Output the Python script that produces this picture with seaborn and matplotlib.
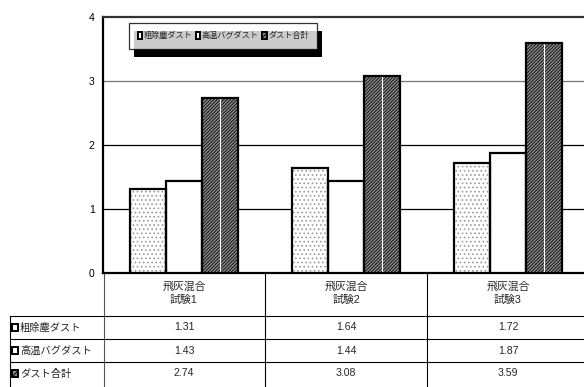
import matplotlib
matplotlib.use("Agg")
import matplotlib.pyplot as plt
import matplotlib.transforms as mtransforms
from matplotlib.patches import Rectangle, Patch
from matplotlib.lines import Line2D
import seaborn as sns
import pandas as pd

# ---- data ----
categories = ["飛灰混合\n試験1", "飛灰混合\n試験2", "飛灰混合\n試験3"]
series = ["粗除塵ダスト", "高温バグダスト", "ダスト合計"]
dust_coarse = [1.31, 1.64, 1.72]
dust_bag = [1.43, 1.44, 1.87]
dust_total = [2.74, 3.08, 3.59]
yticks = [0, 1, 2, 3, 4]

sns.set_theme(style="white")
plt.rcParams["font.family"] = ["Liberation Sans", "Noto Sans CJK JP", "DejaVu Sans"]
plt.rcParams["hatch.linewidth"] = 0.7

W, H = 584, 387
fig = plt.figure(figsize=(W / 100, H / 100), dpi=100)
fig.patch.set_facecolor("white")

# plot area in pixels: x 103..589 (runs past the right edge), y 17..273
px0, px1, py0, py1 = 103, 589, 17, 273
ax = fig.add_axes([px0 / W, 1 - py1 / H, (px1 - px0) / W, (py1 - py0) / H])

df = pd.DataFrame({
    "cat": categories * 3,
    "series": [s for s in series for _ in categories],
    "value": dust_coarse + dust_bag + dust_total,
})

sns.barplot(data=df, x="cat", y="value", hue="series", order=categories,
            hue_order=series, palette=["white"] * 3, saturation=1,
            edgecolor="black", linewidth=1.6, width=0.667, gap=0,
            legend=False, ax=ax, zorder=3)

# fill styles per series: stipple, plain, dense diagonal
styles = [
    dict(facecolor="white", edgecolor="#9a9a9a", hatch="...."),
    dict(facecolor="white", edgecolor="white", hatch=None),
    dict(facecolor="#8c8c8c", edgecolor="#111111", hatch="/" * 10),
]
for cont, st in zip(ax.containers, styles):
    for p in cont.patches:
        p.set_facecolor("none")
        p.set_zorder(4)
        fill = Rectangle((p.get_x(), p.get_y()), p.get_width(), p.get_height(),
                         facecolor=st["facecolor"], edgecolor=st["edgecolor"],
                         hatch=st["hatch"], linewidth=0, zorder=3)
        ax.add_patch(fill)
for p in ax.containers[2].patches:
    cx = p.get_x() + p.get_width() / 2
    ax.plot([cx, cx], [0, p.get_height()], color="white", lw=0.8, zorder=3.5)

ax.set_xlim(-0.5, 2.5)
ax.set_ylim(0, 4)
ax.set_yticks(yticks)
ax.set_yticklabels([str(t) for t in yticks], fontsize=7.5)
ax.tick_params(axis="y", length=0, pad=6, colors="black")
ax.set_xticks([])
ax.set_xlabel("")
ax.set_ylabel("")
for t in [1, 2]:
    ax.axhline(t, color="black", lw=0.9, zorder=1)
ax.axhline(3, color="#777777", lw=0.9, zorder=1)
for side in ["left", "top", "bottom"]:
    ax.spines[side].set_color("black")
    ax.spines[side].set_linewidth(1.6)
ax.spines["top"].set_color("#333333")
ax.spines["right"].set_visible(False)

# ---- data table under the axes ----
def yax(ypix):
    return (py1 - ypix) / (py1 - py0)

def xax(xpix):
    return (xpix - px0) / (px1 - px0)

blend = mtransforms.blended_transform_factory(ax.transData, ax.transAxes)
tA = ax.transAxes

row_lines = [316, 339, 362]
for yl in row_lines:
    ax.add_line(Line2D([xax(10), xax(px1)], [yax(yl), yax(yl)], transform=tA,
                       color="black", lw=0.8, clip_on=False))
ax.add_line(Line2D([xax(10), xax(10)], [yax(316), yax(H + 5)], transform=tA,
                   color="black", lw=0.8, clip_on=False))
ax.add_line(Line2D([xax(104), xax(104)], [yax(273), yax(H + 5)], transform=tA,
                   color="#555555", lw=0.8, clip_on=False))
for b in [0.5, 1.5]:
    ax.add_line(Line2D([b, b], [yax(273), yax(H + 5)], transform=blend,
                       color="black", lw=0.8, clip_on=False))

for i, c in enumerate(categories):
    ax.text(i, yax(293), c, transform=blend, ha="center", va="center",
            fontsize=7.8, linespacing=1.45, clip_on=False)

row_y = [327.5, 350.5, 373.5]
for r, (name, vals) in enumerate(zip(series, [dust_coarse, dust_bag, dust_total])):
    box = Rectangle((xax(12), yax(row_y[r] + 3.5)), 6 / (px1 - px0),
                    7 / (py1 - py0), transform=tA, clip_on=False,
                    facecolor="#888888" if r == 2 else "white",
                    edgecolor="black", linewidth=1.4,
                    hatch="//////" if r == 2 else None, zorder=5)
    ax.add_patch(box)
    ax.text(xax(20), yax(row_y[r]), name, transform=tA, ha="left", va="center",
            fontsize=7.4, clip_on=False)
    for i, v in enumerate(vals):
        ax.text(i, yax(row_y[r]), f"{v:.2f}", transform=blend, ha="center",
                va="center", fontsize=7.6, clip_on=False)

# ---- legend with a solid drop shadow ----
handles = [
    Patch(facecolor="white", edgecolor="black", linewidth=1.4),
    Patch(facecolor="white", edgecolor="black", linewidth=1.4),
    Patch(facecolor="#888888", edgecolor="black", linewidth=1.4, hatch="//////"),
]
leg = ax.legend(handles, series, loc="upper left",
                bbox_to_anchor=(xax(129), yax(23)), ncol=3, fontsize=5.9,
                frameon=True, fancybox=False, edgecolor="black",
                handlelength=0.55, handleheight=0.85, handletextpad=0.2,
                columnspacing=0.4, borderpad=1.05, borderaxespad=0)
leg.get_frame().set_linewidth(0.9)
leg.set_zorder(6)

fig.canvas.draw()
bb = leg.get_window_extent()
shadow = Rectangle((bb.x0 + 5, bb.y0 - 8), bb.width, bb.height,
                   transform=mtransforms.IdentityTransform(), facecolor="black",
                   edgecolor="none", zorder=5.5)
ax.add_artist(shadow)

fig.savefig("out.png", dpi=100, facecolor="white")
